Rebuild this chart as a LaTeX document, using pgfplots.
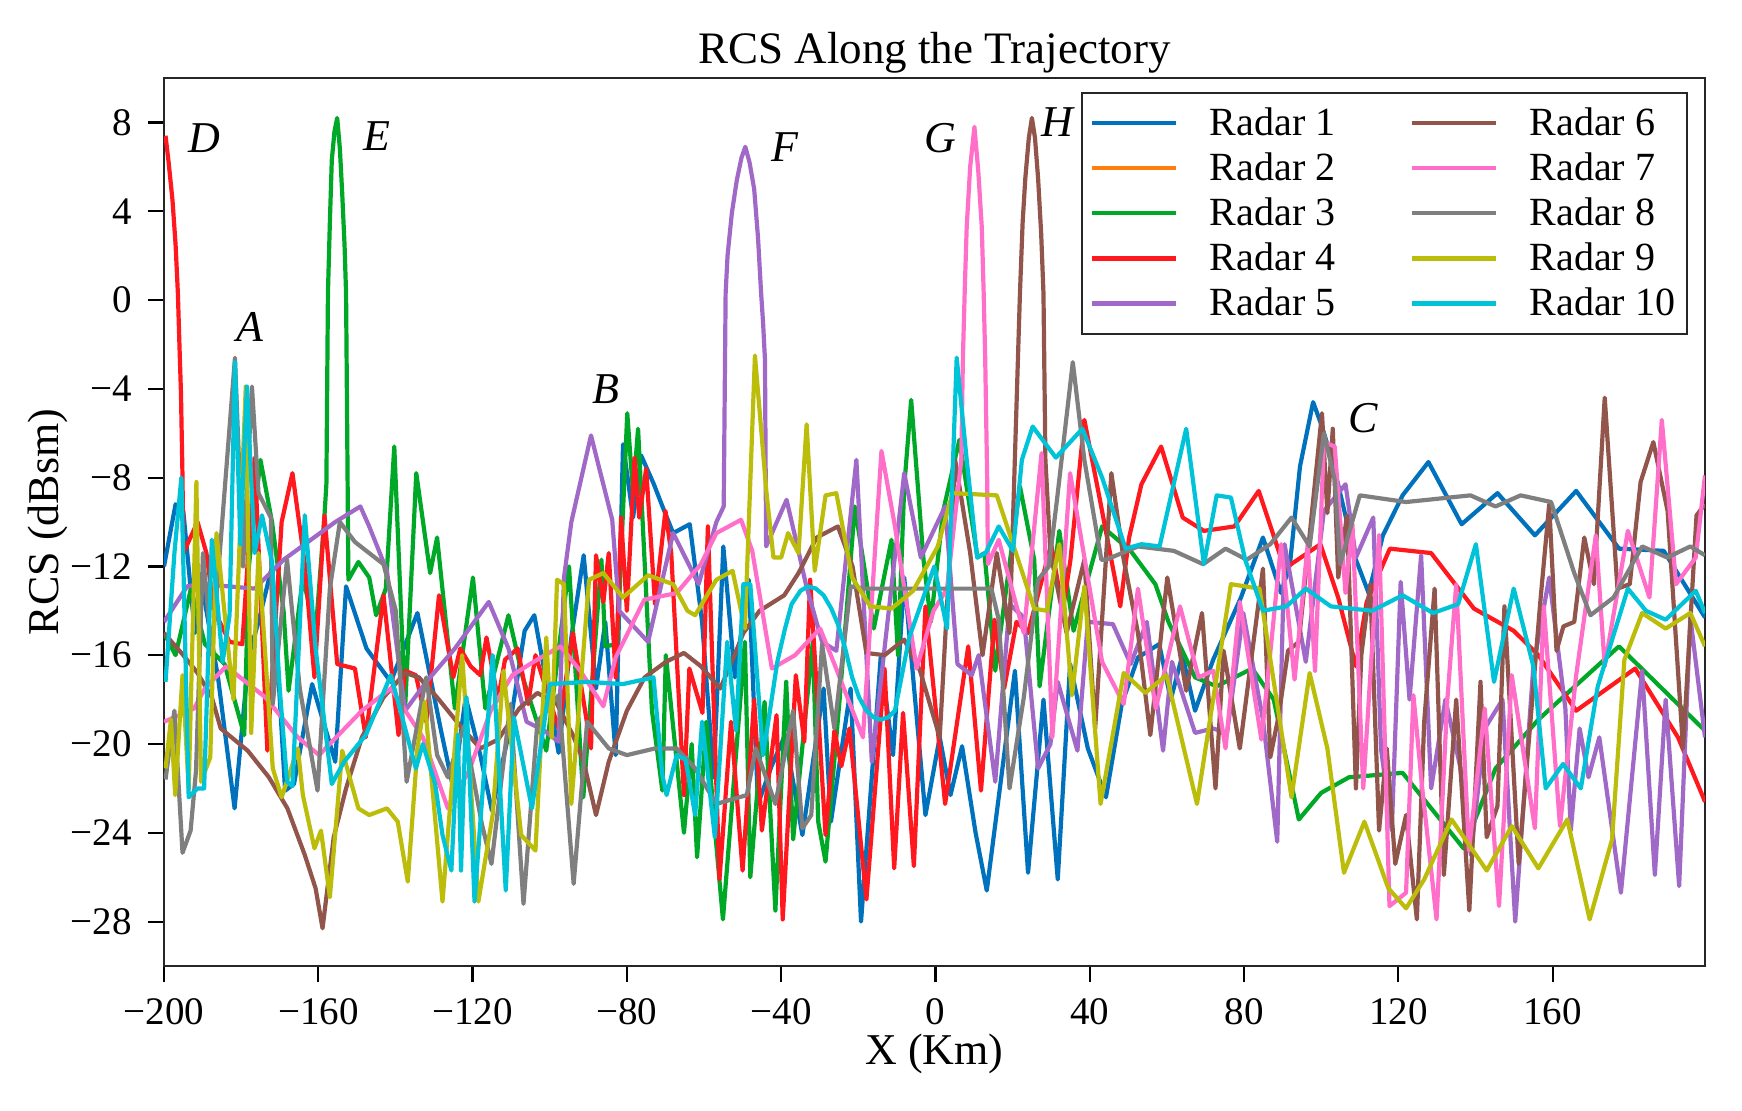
\documentclass[border=0pt]{standalone}
\usepackage{fontspec}
\setmainfont{Liberation Serif}
\usepackage{pgfplots}
\pgfplotsset{compat=1.18}

\definecolor{r1}{RGB}{0,114,189}
\definecolor{r2}{RGB}{255,127,14}
\definecolor{r3}{RGB}{0,168,40}
\definecolor{r4}{RGB}{255,25,30}
\definecolor{r5}{RGB}{160,105,200}
\definecolor{r6}{RGB}{145,85,75}
\definecolor{r7}{RGB}{255,110,200}
\definecolor{r8}{RGB}{127,127,127}
\definecolor{r9}{RGB}{188,189,10}
\definecolor{r10}{RGB}{0,195,215}

\begin{document}
\begin{tikzpicture}[x=1pt,y=1pt]
\useasboundingbox (0,0) rectangle (871,555);
\begin{axis}[
    at={(82pt,72pt)}, anchor=south west,
    scale only axis,
    width=770.5pt,
    height=444pt,
    xmin=-200, xmax=199.5,
    ymin=-30, ymax=10,
    xtick={-200,-160,-120,-80,-40,0,40,80,120,160},
    xticklabels={−200,−160,−120,−80,−40,0,40,80,120,160},
    ytick={-28,-24,-20,-16,-12,-8,-4,0,4,8},
    yticklabels={−28,−24,−20,−16,−12,−8,−4,0,4,8},
    tick align=outside,
    tick pos=left,
    major tick length=8pt,
    tick style={black, line width=1.1pt},
    axis line style={line width=1.1pt, black!85},
    tick label style={font=\fontsize{19.5}{22}\selectfont},
    xticklabel style={yshift=-4.5pt},
    yticklabel style={xshift=-4.5pt},
    title={RCS Along the Trajectory},
    title style={font=\fontsize{22.5}{25}\selectfont, yshift=-7pt},
    xlabel={X (Km)},
    ylabel={RCS (dBsm)},
    label style={font=\fontsize{22}{25}\selectfont},
    xlabel style={yshift=2pt},
    ylabel style={yshift=-5.5pt},
    legend columns=5,
    transpose legend,
    legend cell align=left,
    legend style={
        at={(1,1)}, anchor=north east, xshift=-8.4pt, yshift=-6.8pt,
        draw=black!85, line width=1pt,
        font=\fontsize{20}{22}\selectfont,
        row sep=3.2pt, column sep=0pt,
        /tikz/column 1/.style={column sep=14pt},
        /tikz/column 2/.style={column sep=35pt},
        /tikz/column 3/.style={column sep=14pt},
        inner xsep=4pt, inner ysep=5.5pt,
    },
    legend image code/.code={
        \draw[#1, line width=2.1pt] (0pt,0pt) -- (42pt,0pt);
    },
    every axis plot/.append style={line width=2.1pt, line join=round},
    clip=true,
]

% Radar 1
\addplot[r1] coordinates {
(-200,-12)(-197,-9.2)(-195,-9.5)(-192,-15)(-190,-13)(-186,-17)(-181.7,-22.9)(-178,-16)(-175.5,-14.5)(-172,-12)(-168.6,-22.1)(-166.3,-21.8)(-161.6,-17.3)(-155.6,-20.8)(-152.8,-12.9)(-147.5,-15.7)(-141.2,-17.2)(-134.3,-14.1)(-128.3,-19.3)(-125,-22)(-121.8,-17.9)(-118,-20.5)(-115,-23)(-110.7,-19.6)(-106.5,-14.9)(-104,-14.2)(-101.4,-16.7)(-97.7,-20.4)(-94.4,-15.2)(-91.2,-11.5)(-88,-17.5)(-85.6,-14.5)(-82.9,-20.5)(-81,-6.5)(-78.4,-9.8)(-76.3,-7)(-73,-8.3)(-71,-9.2)(-68,-10.5)(-63.7,-10.1)(-60.5,-14.5)(-57.5,-21.5)(-55,-11.1)(-52,-17)(-48.4,-12.6)(-46,-22.7)(-42.5,-21)(-39,-19.6)(-34.5,-24.1)(-29,-17.5)(-27.1,-23.5)(-22,-17.5)(-19.3,-28)(-14.2,-16.1)(-11,-20.5)(-8.1,-12.5)(-2.6,-23.2)(1.1,-19.7)(3.9,-22.3)(6.9,-20.1)(10.4,-24)(13.3,-26.6)(20.6,-16.7)(24,-25.8)(28,-18)(31.7,-26.1)(34.9,-16.4)(39.5,-20.2)(44.2,-22.4)(48.3,-18.2)(52.5,-16.1)(58,-15.5)(61,-18)(64,-16)(67.3,-18.5)(72,-16.2)(79.2,-13.4)(84.9,-10.7)(89.6,-13.2)(91.9,-11.9)(94.5,-7.5)(97.9,-4.6)(100,-5.6)(103,-7.3)(109,-11.7)(112.3,-13.2)(116,-10.6)(121.1,-8.8)(127.8,-7.3)(136.4,-10.1)(145.7,-8.7)(155.4,-10.6)(166.1,-8.6)(177.2,-11.2)(188.8,-11.3)(199.5,-14.3)};
\addlegendentry{Radar 1}

% Radar 2 lies under the other curves, only its legend line shows
\addlegendimage{r2}
\addlegendentry{Radar 2}

% Radar 3
\addplot[r3] coordinates {
(-200,-15)(-197,-16)(-193,-13)(-189.4,-15.5)(-184.3,-16.4)(-179.2,-19.6)(-178,-12)(-175,-7.2)(-172,-10)(-169,-14)(-167.7,-17.6)(-164,-12.5)(-160.7,-15)(-158.5,-10)(-157.9,-8.3)(-157.5,0.3)(-157,3.5)(-156.5,6.3)(-155.8,7.6)(-155.1,8.2)(-154.4,6.8)(-153.8,4.8)(-153.2,2.5)(-152.8,0.3)(-152.5,-6)(-152.2,-12.6)(-149.6,-11.8)(-146.8,-12.5)(-145,-14.2)(-142.5,-13)(-140.3,-6.6)(-137.5,-18.4)(-134.6,-7.8)(-131,-12.3)(-129.2,-10.7)(-124.6,-18.4)(-119.9,-12.5)(-116.7,-18.4)(-110.7,-14.2)(-107,-17)(-100.9,-20.3)(-95,-12)(-91.3,-22.4)(-86.6,-11.7)(-85.6,-15.6)(-82.5,-15.5)(-79.9,-5.1)(-78.4,-8.7)(-77.1,-5.8)(-73.5,-18.5)(-70.8,-22.1)(-69.9,-16)(-65.2,-24)(-63.2,-20)(-61.8,-25.1)(-59.4,-19)(-57.5,-23.2)(-55.1,-27.9)(-49.4,-15.4)(-48,-26)(-44.3,-18.1)(-41.5,-27.5)(-38.7,-17.2)(-36.9,-24.3)(-31.8,-15.4)(-30.4,-23.5)(-28.5,-25.3)(-24.8,-17.9)(-20.9,-9.3)(-16,-14.8)(-11.4,-10.8)(-9.7,-16)(-8.1,-8.4)(-6.3,-4.5)(-3.1,-11.7)(-1.2,-14.5)(2,-9.5)(6.2,-6.3)(10.9,-11.6)(12.7,-11.4)(15.5,-16.7)(21.9,-8.4)(25.6,-11.7)(27,-17.4)(32.1,-10.4)(35.8,-14.9)(43.2,-10.2)(50.6,-11.3)(57,-12.8)(60.4,-14.5)(67.3,-17)(72.9,-17.4)(82.1,-16.6)(87.7,-18)(94.2,-23.4)(100,-22.2)(107.2,-21.5)(121.1,-21.3)(136.9,-24.7)(145.2,-21.1)(156.3,-18.9)(177.2,-15.6)(199.5,-19.4)};
\addlegendentry{Radar 3}

% Radar 4
\addplot[r4] coordinates {
(-199.6,7.4)(-198.8,6.2)(-197.8,4.5)(-197,2.5)(-196.4,0.3)(-196,-2)(-195.6,-4.2)(-195.2,-8)(-195,-11.4)(-191.3,-10)(-189,-11.4)(-187,-14)(-183,-15.4)(-179.7,-15.5)(-176.5,-7.1)(-173.2,-20.3)(-169.5,-10)(-166.7,-7.8)(-163.5,-11.9)(-161,-17)(-158.4,-9.7)(-155.1,-16.4)(-150.5,-16.6)(-147.7,-19.7)(-143.1,-13.3)(-139.2,-19.6)(-137.5,-16.7)(-134.7,-16.9)(-132,-19)(-128.7,-13.3)(-125,-17)(-123.2,-15.7)(-120.5,-16.5)(-118,-16.9)(-116.4,-15.2)(-113.4,-18)(-111.6,-16.2)(-108.3,-15.7)(-105.6,-18.2)(-103.7,-16)(-97.7,-19.3)(-94,-15)(-89.3,-20.2)(-88,-11.5)(-86.1,-13.6)(-84.7,-11.4)(-82.9,-17)(-81.5,-9.8)(-80,-14)(-78,-7.1)(-76.8,-9.8)(-75,-7.6)(-72.7,-13.7)(-70,-9.5)(-68.5,-11.4)(-65.2,-22.3)(-63.8,-16.6)(-60.4,-18.6)(-59,-10.2)(-56,-26.1)(-53,-19)(-50,-25.7)(-47,-18)(-45,-23.9)(-41.2,-18.7)(-39.6,-27.9)(-36.2,-16.9)(-34,-19.9)(-32.5,-12.6)(-28.5,-24.1)(-26.2,-19.4)(-24.4,-21)(-22.3,-19.3)(-17.9,-27)(-13.2,-16.6)(-10.7,-25.6)(-8.4,-18.6)(-5.6,-25.5)(-2.6,-13.8)(2.5,-22.7)(8.5,-15.6)(11.8,-22.1)(15.3,-14.4)(17.8,-17.5)(21,-14.5)(24,-15)(27,-13)(30,-11)(33,-14)(35,-11.7)(38.6,-5.4)(42.3,-8.7)(47.9,-13.8)(50.2,-10.7)(53.4,-8.3)(58.5,-6.6)(64.1,-9.8)(69.6,-10.4)(77.5,-10.2)(83.8,-8.6)(90.5,-12.1)(99.8,-11)(104.4,-13.4)(109,-16.5)(111.8,-13.6)(117.8,-11.2)(128.5,-11.4)(139.6,-13.9)(149.9,-14.9)(156.3,-16)(166.1,-18.5)(181.4,-16.6)(192.5,-19.7)(199.5,-22.6)};
\addlegendentry{Radar 4}

% Radar 5
\addplot[r5] coordinates {
(-200,-14.5)(-194,-12.9)(-190,-12.8)(-176.5,-13)(-169,-11.7)(-155.6,-10)(-149.1,-9.3)(-146.8,-10.2)(-142.2,-12.2)(-137.5,-18.5)(-132,-17.2)(-124.6,-15.7)(-115.8,-13.6)(-110.7,-15.7)(-106,-19)(-101.4,-19.4)(-97.7,-19.9)(-96.3,-12.5)(-94.4,-10)(-89.3,-6.1)(-83.8,-9.9)(-82,-14)(-74.5,-15.4)(-68,-10.5)(-61.4,-12.8)(-56.8,-10)(-54.9,-9.3)(-54.4,0.3)(-53.9,2)(-52.8,3.9)(-51.5,5.4)(-50.3,6.4)(-49.3,6.9)(-48.2,6.2)(-47,5)(-46,2.8)(-45.2,0.3)(-44.7,-1)(-44.2,-2.7)(-43.9,-11.1)(-38.6,-9)(-35.4,-11.4)(-33.6,-12.8)(-29.4,-15.4)(-25.7,-15.8)(-20.5,-7.2)(-16.5,-20.8)(-8.1,-7.8)(-3.8,-11.6)(2.5,-9.3)(5.7,-16.4)(9.4,-16.9)(11.2,-16)(15.5,-21.7)(19.2,-13.7)(22.9,-14.3)(26.6,-21.1)(29.8,-20)(31.7,-17.2)(36.8,-20.3)(39.5,-14.5)(46,-14.6)(50.6,-16.4)(54.8,-14.5)(59,-20.3)(61.3,-16.3)(67.3,-19.5)(71.9,-19.3)(75.6,-19.5)(79.8,-14.1)(84.9,-18.9)(88.6,-24.4)(90.5,-11)(96,-16.3)(100.7,-9.5)(106.3,-8.3)(109,-11.6)(113.5,-9.8)(115.5,-20.2)(118.3,-23.9)(120.6,-12.7)(122.9,-18)(125.9,-11.5)(128.5,-22)(132.2,-18)(136,-21)(138.8,-25)(142.4,-19.3)(147,-18)(150.3,-28)(155,-16.5)(159.1,-12.5)(163.3,-18.4)(164.7,-23.9)(167,-19.3)(169.3,-21.5)(172.1,-19.7)(177.7,-26.7)(183.2,-16.7)(186.5,-25.9)(189.3,-18)(192.8,-26.4)(195.7,-14.3)(199.5,-19.7)};
\addlegendentry{Radar 5}

% Radar 6
\addplot[r6] coordinates {
(-200,-15)(-195,-16)(-191.3,-16.8)(-187.6,-17.9)(-185.3,-19.3)(-178.3,-20.3)(-172.8,-21.5)(-168,-22.9)(-163.5,-25)(-160.7,-26.5)(-158.9,-28.3)(-156,-24.2)(-152.8,-22)(-148.7,-19.7)(-143.1,-17.9)(-137.5,-16.8)(-133.9,-17)(-129.2,-17.9)(-123.6,-19.1)(-118,-20.2)(-113.4,-19.8)(-107.9,-18.4)(-103.2,-17.7)(-98.1,-18.2)(-94,-19.6)(-91.2,-20.8)(-88,-23.2)(-84.7,-20.8)(-80,-18.5)(-75.4,-17)(-69.9,-16.3)(-65.2,-15.9)(-60.8,-16.5)(-55.8,-17.5)(-52.1,-16)(-49.8,-15)(-45.6,-14)(-39.2,-13.3)(-35.5,-12.3)(-30.8,-10.7)(-25.3,-10.2)(-21.5,-12)(-17.9,-15.9)(-13.2,-16)(-8.1,-15.3)(-4,-16.7)(1.1,-19.7)(5.1,-7.2)(9,-11.4)(12.2,-16)(15.9,-11.4)(19.2,-15)(21.9,0.3)(22.6,3.5)(23.3,5.5)(24.2,7.3)(25,8.2)(25.8,7.3)(26.6,5.5)(27.4,3)(28,0.3)(28.5,-7.2)(29.8,-11.4)(34,-15)(38.6,-11.7)(41.4,-19.3)(45.6,-7.8)(48.8,-11.7)(52.5,-15)(55.7,-19.6)(60.1,-12.5)(65,-17.6)(69.1,-14.1)(72.6,-22)(74.7,-15.8)(78.9,-20.2)(84.9,-12.1)(86.8,-20.6)(89,-18.7)(91.4,-15.8)(94.2,-15.4)(100.2,-5.1)(101.6,-9.6)(103,-5.8)(104.4,-12.5)(106.7,-9.7)(109,-22)(110.4,-16)(112.7,-12.8)(115,-23.9)(117,-20.2)(119.2,-25.4)(122,-23.2)(124.8,-27.9)(126.7,-19)(129.4,-13)(131.8,-25.9)(135,-18)(138.4,-27.5)(141.3,-17.2)(142.9,-24.2)(145.7,-22.8)(147.5,-13.8)(151.2,-25.4)(156.8,-13.6)(159.1,-9.2)(161,-15.8)(162.8,-14.7)(165.6,-14.5)(168.2,-10.7)(170.7,-12.8)(173.5,-4.4)(176.8,-13)(180,-12.8)(182.8,-8.2)(186.1,-6.4)(189.8,-9.5)(193.8,-20.2)(197.3,-9.7)(199.5,-9.2)};
\addlegendentry{Radar 6}

% Radar 7
\addplot[r7] coordinates {
(-200,-19)(-192.2,-18.4)(-189.4,-17.5)(-183.9,-16.5)(-173.7,-17.9)(-165.3,-19.7)(-159.8,-20.5)(-148.7,-18.5)(-141.2,-17.5)(-132.9,-19.7)(-126.4,-22.9)(-120.9,-21.2)(-115.3,-18.5)(-109.7,-16.9)(-104.2,-16.3)(-97.2,-15.6)(-92.1,-16.7)(-86.1,-18.3)(-82.9,-16.1)(-75.5,-13.5)(-67.1,-13.2)(-60.8,-11.9)(-56.8,-10.5)(-50.4,-9.9)(-47.5,-11.3)(-42.4,-16.6)(-36.4,-16)(-29.9,-14.8)(-26.2,-16.4)(-18.8,-19.7)(-14,-6.8)(-10.5,-10.2)(-4.9,-16.6)(-0.5,-14)(3,-13)(6.7,-7.2)(7.1,-2.7)(7.6,0.5)(8.1,3.3)(9,6)(10.1,7.8)(11.1,5.8)(12,3.3)(12.5,0.3)(12.9,-2.7)(13.4,-8)(13.6,-11.9)(16.4,-10.8)(22.9,-15)(27.5,-6.9)(30.3,-19.7)(34.9,-7.8)(43.2,-16.3)(48.8,-18.2)(52.5,-13)(57.1,-18.4)(63.4,-13.8)(68.2,-17)(72,-16.7)(75.2,-20.2)(78.9,-13.6)(84.5,-19.8)(87.2,-15.2)(89.6,-11)(93.1,-17.1)(96.5,-11)(98.4,-16.7)(100.7,-6.4)(103.5,-6.6)(106.3,-13.2)(108.1,-10.1)(110.9,-22)(115,-10.6)(117.7,-27.3)(122,-26.7)(123.9,-17.8)(126.2,-22)(129.9,-27.9)(132.7,-18)(135,-12.8)(138.3,-24.8)(142.4,-18.4)(146.1,-27.3)(149.4,-16.9)(155.4,-23.8)(157.7,-13.8)(161.9,-23.7)(166.1,-16.9)(171.2,-10.6)(173.5,-16.5)(179.5,-10.4)(185.1,-13.4)(188.3,-5.4)(192,-12.8)(197.1,-11.6)(199.5,-7.9)};
\addlegendentry{Radar 7}

% Radar 8
\addplot[r8] coordinates {
(-199.6,-21.6)(-197.3,-18.5)(-195.2,-24.9)(-193.1,-23.9)(-191.7,-21.2)(-189.9,-11.4)(-187.6,-16)(-181.6,-2.6)(-179.5,-12)(-177.2,-3.9)(-175.5,-8.7)(-172.3,-9.8)(-171.8,-18.2)(-168.1,-11.7)(-164.8,-17.5)(-160.2,-22.1)(-157,-13)(-154.4,-10)(-150.5,-10.9)(-143.1,-11.9)(-139.9,-14)(-137.1,-21.7)(-132,-17)(-129.2,-20.5)(-126.4,-21.5)(-122.3,-19.2)(-117.6,-23.6)(-115.1,-25.4)(-110.2,-18.2)(-106.8,-27.2)(-103.2,-19)(-97.7,-17.8)(-93.8,-26.3)(-90.3,-19)(-84.7,-20.2)(-80,-20.5)(-72.7,-20.2)(-67.1,-20.2)(-62.3,-21.1)(-56.8,-22.7)(-48.9,-22.3)(-46.6,-20.2)(-41.5,-22.7)(-36.9,-18.5)(-34.5,-23.8)(-32.2,-23.2)(-29.4,-15.5)(-26.2,-19.3)(-22,-12.9)(-18.8,-13)(-1.2,-13)(14.5,-13)(16.4,-14.4)(19.2,-22)(22.9,-17.9)(26.6,-12.6)(29.4,-12)(31.5,-9)(35.6,-2.8)(38.6,-7.2)(43,-11.7)(44.2,-11.7)(52.5,-11.1)(61.8,-11.3)(69.4,-11.9)(75.2,-11.2)(80.7,-11.7)(86.8,-11)(92.3,-9.8)(97,-11.1)(100.7,-6)(103.5,-8.1)(104.9,-11.9)(110,-8.8)(122,-9.1)(138.7,-8.8)(145.2,-9.3)(151.7,-8.8)(159.6,-9.1)(165.6,-12.3)(169.8,-14.2)(175.8,-13.4)(183.2,-11.1)(189.7,-11.6)(195.7,-11.1)(199.5,-11.5)};
\addlegendentry{Radar 8}

% Radar 9
\addplot[r9] coordinates {
(-199.6,-21.1)(-198.2,-18.9)(-197.1,-22.3)(-195.2,-16.9)(-193.6,-22)(-191.6,-8.2)(-190.4,-21.7)(-188,-20.6)(-186.4,-10.5)(-182,-18)(-178.8,-3.9)(-177.4,-19.5)(-175.5,-11.4)(-171.8,-21.1)(-169.5,-22.4)(-165.3,-20.2)(-164,-22.3)(-161,-24.7)(-159.3,-23.9)(-157,-26.9)(-153.8,-20.3)(-149.6,-22.9)(-146.8,-23.2)(-142.2,-22.9)(-139.4,-23.5)(-136.8,-26.2)(-134.3,-20.2)(-132.4,-18.1)(-127.8,-27.1)(-122.7,-16)(-118.5,-27.1)(-114.8,-23.2)(-112,-16.7)(-107.4,-24.1)(-103.7,-24.8)(-100.9,-15.2)(-99.5,-19.7)(-98.1,-12.6)(-96.3,-12.8)(-94.4,-22.7)(-89.8,-12.6)(-86.1,-12.3)(-81,-13.4)(-74.5,-12.4)(-68,-12.8)(-64.3,-14)(-62.3,-14.2)(-56.8,-12.6)(-52.6,-12.2)(-49.4,-14.8)(-46.8,-2.5)(-43.8,-8.7)(-42,-11.6)(-40,-11.6)(-38.2,-10.5)(-35.5,-11.4)(-33.4,-5.6)(-31.3,-12.2)(-28.5,-8.8)(-25.7,-8.7)(-21.6,-12.5)(-16.9,-13.8)(-11.4,-13.9)(-5.8,-13.1)(0.6,-11.1)(4.4,-8.7)(15.9,-8.8)(20.1,-11)(25.6,-13.9)(28.9,-14)(32.1,-11)(35.4,-17.8)(38.6,-12.9)(42.8,-22.7)(48.8,-16.8)(54.4,-17.7)(59.9,-16.9)(67.8,-22.7)(76.6,-12.8)(84,-13)(92.3,-22.4)(97,-16.8)(101.6,-20.2)(105.9,-25.8)(111.2,-23.5)(117.4,-26.5)(122,-27.4)(126.7,-26.1)(133.8,-23.4)(142.9,-25.7)(149.4,-23.7)(156.3,-25.6)(163.8,-23.4)(169.6,-27.9)(175.4,-24.3)(178.6,-16.2)(183.2,-14.1)(189.3,-14.8)(195.7,-14.1)(199.5,-15.6)};
\addlegendentry{Radar 9}

% Radar 10
\addplot[r10] coordinates {
(-199.6,-17.2)(-197.3,-11.4)(-195.5,-8)(-193.6,-22.4)(-191.3,-22)(-189.6,-22)(-187.6,-10.8)(-184.8,-16.3)(-183,-14.2)(-181.6,-2.8)(-180.2,-11)(-178.5,-3.9)(-176.5,-11.4)(-174.6,-9.7)(-172,-11.8)(-170,-17.5)(-168.1,-21.7)(-166.7,-21.9)(-163.5,-9.7)(-160.7,-15.7)(-156.5,-21.8)(-153.3,-20.8)(-147.7,-19.6)(-141.2,-16.9)(-134.7,-21.1)(-132.9,-20)(-129.7,-21.8)(-127.8,-24.1)(-125.5,-25.7)(-123.8,-19.6)(-123,-25.7)(-121.6,-17.9)(-119.5,-27.1)(-114.8,-16)(-111.4,-26.6)(-109.3,-18.8)(-104.6,-22.9)(-100,-17.3)(-90.3,-17.2)(-81,-17.3)(-73.1,-17)(-70.8,-21.4)(-69.7,-22.3)(-67.1,-20.5)(-64.8,-20.7)(-62.3,-23.2)(-60.5,-19)(-57.2,-24.2)(-54,-15.4)(-51.7,-19.4)(-49.8,-12.8)(-48,-12.8)(-44.7,-20.5)(-43,-18.6)(-41,-16.3)(-39,-14.8)(-37.3,-13.7)(-35,-13.1)(-33.1,-12.9)(-31,-13)(-29,-13.3)(-27,-13.9)(-25.3,-14.6)(-23.4,-15.7)(-21.6,-17)(-19.8,-17.9)(-17.9,-18.5)(-16,-18.8)(-14.2,-18.9)(-12.3,-18.8)(-10.5,-18.5)(-6.8,-15.2)(-0.3,-12)(3,-14.8)(5.5,-2.6)(8.1,-7.2)(10.8,-11.6)(13,-11.4)(16.4,-10.2)(20.1,-11.3)(22.4,-7.2)(25.2,-5.7)(31.2,-7.1)(38.1,-5.8)(43.2,-8)(49.3,-11.2)(53.4,-11)(58.1,-11.1)(65,-5.8)(69.6,-11.9)(72.9,-8.8)(76.6,-8.9)(80.3,-11.7)(84.9,-14)(91,-13.8)(96,-13)(102.5,-13.8)(113.2,-14)(121.1,-13.3)(129,-14.1)(135.5,-13.7)(140.1,-11)(144.8,-17.2)(149.9,-13)(155,-16.5)(158.2,-22)(162.7,-20.9)(167.3,-22)(171.7,-17.4)(179.5,-13)(184.2,-14)(189.3,-14.4)(197.1,-13.1)(199.5,-14.1)};
\addlegendentry{Radar 10}

\begin{scope}[every node/.style={font=\fontsize{22}{24}\selectfont\itshape}]
\node at (axis cs:-177.8,-1.2) {A};
\node at (axis cs:-85.5,-4) {B};
\node at (axis cs:111,-5.3) {C};
\node at (axis cs:-189.6,7.3) {D};
\node at (axis cs:-144.7,7.4) {E};
\node at (axis cs:-38.9,6.9) {F};
\node at (axis cs:1.4,7.3) {G};
\node at (axis cs:31.7,8) {H};
\end{scope}
\end{axis}
\end{tikzpicture}
\end{document}
